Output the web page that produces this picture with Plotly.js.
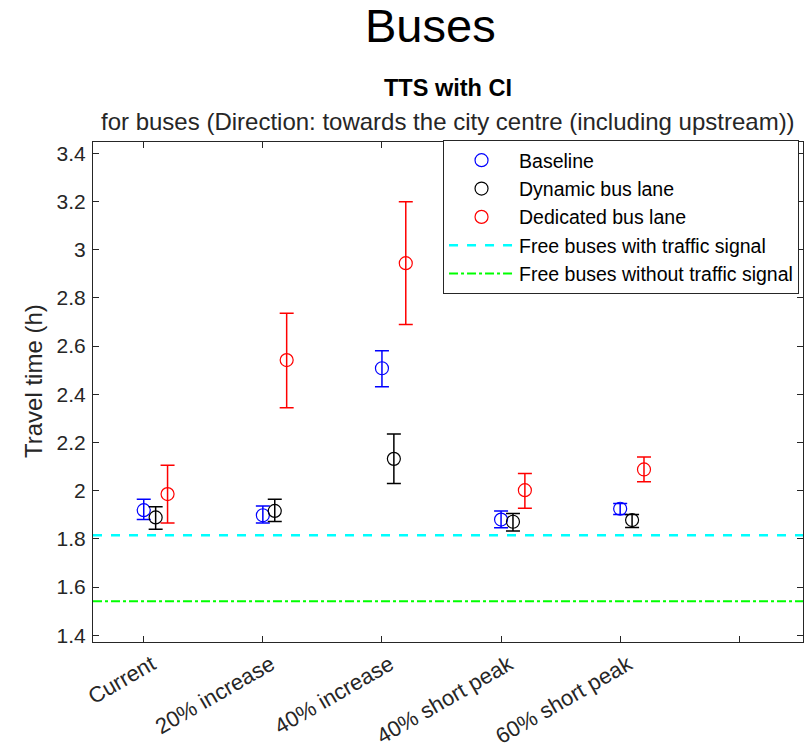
<!DOCTYPE html>
<html>
<head>
<meta charset="utf-8">
<script src="https://cdn.plot.ly/plotly-3.0.1.min.js"></script>
<style>html,body{margin:0;padding:0;background:#fff;}#chart{width:811px;height:748px;}</style>
</head>
<body>
<div id="chart"></div>
<script>
// ---- data ----
const categories = ["Current", "20% increase", "40% increase", "40% short peak", "60% short peak", ""];
const categoryPos = [1, 2, 3, 4, 5, 6];

const baselineMean  = [1.919, 1.898, 2.508, 1.880, 1.925];
const baselineUpper = [1.964, 1.936, 2.581, 1.916, 1.947];
const baselineLower = [1.880, 1.866, 2.431, 1.846, 1.901];

const dynamicMean  = [1.889, 1.916, 2.132, 1.871, 1.878];
const dynamicUpper = [1.933, 1.964, 2.235, 1.905, 1.901];
const dynamicLower = [1.840, 1.872, 2.030, 1.833, 1.847];

const dedicatedMean  = [1.986, 2.542, 2.944, 2.002, 2.088];
const dedicatedUpper = [2.105, 2.736, 3.199, 2.071, 2.140];
const dedicatedLower = [1.866, 2.344, 2.690, 1.927, 2.037];

const freeWithSignal = 1.815;
const freeWithoutSignal = 1.541;

const yTicks = [1.4, 1.6, 1.8, 2, 2.2, 2.4, 2.6, 2.8, 3, 3.2, 3.4];
const yTickText = ["1.4", "1.6", "1.8", "2", "2.2", "2.4", "2.6", "2.8", "3", "3.2", "3.4"];

// ---- layout helpers ----
const xRange = [0.574, 6.535];
const yRange = [1.372, 3.447];
const FONT = "Liberation Sans, Arial, Helvetica, sans-serif";

function ciTrace(name, mean, upper, lower, offset, color) {
  return {
    type: "scatter",
    mode: "markers",
    name: name,
    x: mean.map((_, i) => categoryPos[i] + offset),
    y: mean,
    marker: {symbol: "circle-open", size: 13, color: color, line: {width: 1.2, color: color}},
    error_y: {
      type: "data", symmetric: false,
      array: upper.map((u, i) => u - mean[i]),
      arrayminus: lower.map((l, i) => mean[i] - l),
      color: color, thickness: 1.5, width: 7
    },
    hoverinfo: "x+y"
  };
}

const traces = [
  ciTrace("Baseline", baselineMean, baselineUpper, baselineLower, 0.0, "#0000ff"),
  ciTrace("Dynamic bus lane", dynamicMean, dynamicUpper, dynamicLower, 0.1, "#000000"),
  ciTrace("Dedicated bus lane", dedicatedMean, dedicatedUpper, dedicatedLower, 0.2, "#ff0000"),
  {
    type: "scatter", mode: "lines", name: "Free buses with traffic signal",
    x: xRange, y: [freeWithSignal, freeWithSignal],
    line: {color: "#00ffff", width: 2.5, dash: "dash"}
  },
  {
    type: "scatter", mode: "lines", name: "Free buses without traffic signal",
    x: xRange, y: [freeWithoutSignal, freeWithoutSignal],
    line: {color: "#00ff00", width: 2, dash: "dashdot"}
  }
];

const axisColor = "#262626";
const layout = {
  width: 811, height: 748,
  margin: {l: 93, r: 8, t: 142, b: 106},
  paper_bgcolor: "#ffffff", plot_bgcolor: "#ffffff",
  font: {family: FONT, color: axisColor},
  showlegend: true,
  legend: {
    x: 0.493, y: 1.004, xanchor: "left", yanchor: "top",
    bgcolor: "#ffffff", bordercolor: axisColor, borderwidth: 1,
    font: {family: FONT, size: 19.5, color: "#000000"},
    itemwidth: 65, tracegroupgap: 0
  },
  xaxis: {
    range: xRange, tickvals: categoryPos, ticktext: categories,
    tickangle: -30, ticks: "inside", ticklen: 6, tickcolor: axisColor,
    ticklabelshift: 8,
    showline: true, linecolor: axisColor, linewidth: 1.2, mirror: "ticks",
    showgrid: false, zeroline: false,
    tickfont: {family: FONT, size: 22, color: axisColor}
  },
  yaxis: {
    range: yRange, tickvals: yTicks, ticktext: yTickText,
    ticks: "inside", ticklen: 6, tickcolor: axisColor, ticklabelstandoff: 2,
    showline: true, linecolor: axisColor, linewidth: 1.2, mirror: "ticks",
    showgrid: false, zeroline: false,
    tickfont: {family: FONT, size: 21, color: axisColor}
  },
  annotations: [
    {text: "Buses", xref: "paper", yref: "paper", x: 0.476, y: 1.234, xanchor: "center", yanchor: "middle",
     showarrow: false, font: {family: FONT, size: 47, color: "#000000"}},
    {text: "<b>TTS with CI</b>", xref: "paper", yref: "paper", x: 0.5, y: 1.108, xanchor: "center", yanchor: "middle",
     showarrow: false, font: {family: FONT, size: 23.5, color: "#000000"}},
    {text: "for buses (Direction: towards the city centre (including upstream))", xref: "paper", yref: "paper",
     x: 0.5, y: 1.04, xanchor: "center", yanchor: "middle",
     showarrow: false, font: {family: FONT, size: 24, color: axisColor}},
    {text: "Travel time (h)", xref: "paper", yref: "paper", x: -0.0845, y: 0.522, xanchor: "center", yanchor: "middle",
     textangle: -90, showarrow: false, font: {family: FONT, size: 24, color: axisColor}}
  ]
};

Plotly.newPlot("chart", traces, layout, {displayModeBar: false, responsive: false});
</script>
</body>
</html>
